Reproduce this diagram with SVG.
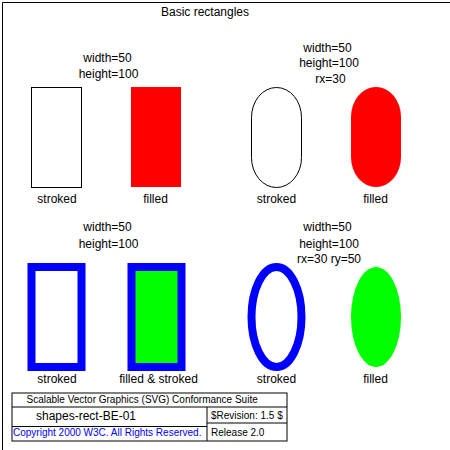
<svg xmlns="http://www.w3.org/2000/svg" width="450" height="450" viewBox="0 0 450 450">
  <style>
    text { font-family: "Liberation Sans", Arial, sans-serif; font-size: 12px; fill: #000; }
    .mid { text-anchor: middle; }
    .legend { font-size: 10px; }
    .line { fill: none; stroke: #000; stroke-width: 1; }
    .thin { fill: none; stroke: #000; stroke-width: 1; }
    .red { fill: #ff0000; stroke: none; }
    .blue { fill: none; stroke: #0000ff; stroke-width: 8; }
    .bluegreen { fill: #00ff00; stroke: #0000ff; stroke-width: 8; }
    .green { fill: #00ff00; stroke: none; }
  </style>
  <rect x="0" y="0" width="450" height="450" fill="#fff"/>
  <path class="line" d="M2.5,450 V2.5 H450" stroke-width="1.2"/>

  <text id="title" class="mid" x="205" y="15.5">Basic rectangles</text>

  <g id="heading-top-left">
    <text class="mid" x="107.5" y="62">width=50</text>
    <text class="mid" x="108.5" y="77.5">height=100</text>
  </g>
  <g id="heading-top-right">
    <text class="mid" x="327.5" y="51.5">width=50</text>
    <text class="mid" x="329" y="67">height=100</text>
    <text class="mid" x="330.5" y="83">rx=30</text>
  </g>

  <g id="rect-stroked">
    <rect class="thin" x="31.5" y="87.5" width="50" height="100"/>
    <text class="mid" x="57" y="203">stroked</text>
  </g>
  <g id="rect-filled">
    <rect class="red" x="131" y="87" width="50" height="100"/>
    <text class="mid" x="155.5" y="203">filled</text>
  </g>
  <g id="round-stroked">
    <rect class="thin" x="251.5" y="87.5" width="50" height="100" rx="30"/>
    <text class="mid" x="276.5" y="203">stroked</text>
  </g>
  <g id="round-filled">
    <rect class="red" x="351" y="87" width="50" height="100" rx="30"/>
    <text class="mid" x="375.5" y="203">filled</text>
  </g>

  <g id="heading-bottom-left">
    <text class="mid" x="107.5" y="231">width=50</text>
    <text class="mid" x="108.5" y="247.5">height=100</text>
  </g>
  <g id="heading-bottom-right">
    <text class="mid" x="327.5" y="231">width=50</text>
    <text class="mid" x="329" y="247.5">height=100</text>
    <text class="mid" x="329" y="263">rx=30 ry=50</text>
  </g>

  <g id="thick-stroked">
    <rect class="blue" x="31.5" y="267" width="50" height="100"/>
    <text class="mid" x="57" y="383">stroked</text>
  </g>
  <g id="thick-filled-stroked">
    <rect class="bluegreen" x="131.5" y="267" width="50" height="100"/>
    <text class="mid" x="158.5" y="383">filled &amp; stroked</text>
  </g>
  <g id="ellipse-stroked">
    <rect class="blue" x="251.5" y="267" width="50" height="100" rx="30" ry="50"/>
    <text class="mid" x="276.5" y="383">stroked</text>
  </g>
  <g id="ellipse-filled">
    <rect class="green" x="351" y="267" width="50" height="100" rx="30" ry="50"/>
    <text class="mid" x="375.5" y="383">filled</text>
  </g>

  <g id="test-legend">
    <rect class="line" x="12" y="393" width="275" height="48"/>
    <path class="line" d="M12,407 H287 M207,407 V441 M12,426.5 H207 M207,423 H287"/>
    <text class="legend" x="26.5" y="402.5">Scalable Vector Graphics (SVG) Conformance Suite</text>
    <text x="36" y="420">shapes-rect-BE-01</text>
    <text class="legend" x="211" y="418.5">$Revision: 1.5 $</text>
    <text class="legend" x="13" y="436" fill="#0000ff" style="fill:#0000ff">Copyright 2000 W3C. All Rights Reserved.</text>
    <text class="legend" x="211" y="436">Release 2.0</text>
  </g>
</svg>
